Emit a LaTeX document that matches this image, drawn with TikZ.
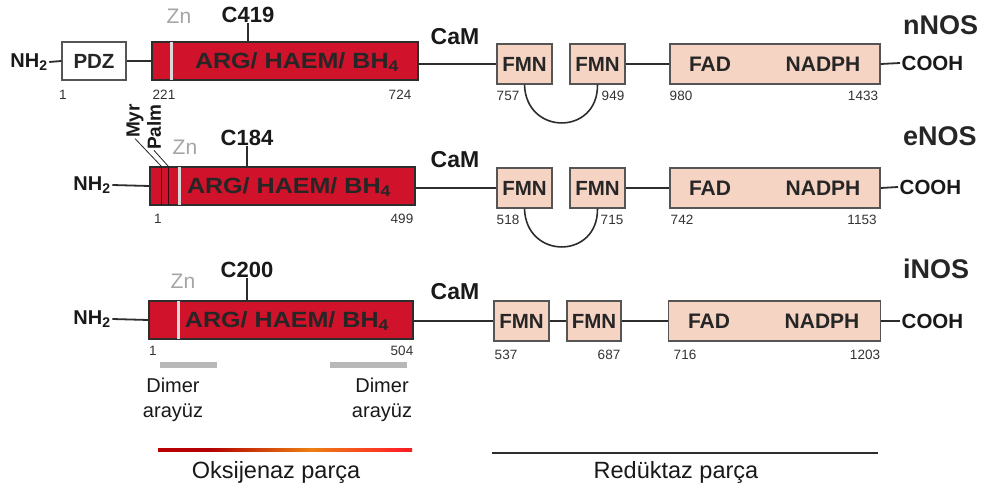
\documentclass[tikz,border=0pt]{standalone}
\usepackage{fontspec}
\setmainfont{Liberation Sans}
\usetikzlibrary{calc}
\definecolor{nosred}{RGB}{208,18,42}
\definecolor{salmon}{RGB}{246,212,196}
\definecolor{lnc}{RGB}{45,45,45}
\definecolor{bord}{RGB}{85,85,85}
\definecolor{zngray}{RGB}{165,165,165}
\definecolor{darkstripe}{RGB}{60,10,16}
\pgfdeclarehorizontalshading{oxgrad}{100bp}{color(0bp)=(black!60); color(15bp)=(red!75!black); color(35bp)=(red!70!black); color(55bp)=(orange!70!brown); color(72bp)=(red!85); color(88bp)=(red!80!black); color(100bp)=(red!50!black)}
\newcommand{\argtext}{\scalebox{1.14}[1]{ARG/ HAEM/ BH\textsubscript{4}}}
\begin{document}
\begin{tikzpicture}[x=1pt,y=-1pt,
  redbox/.style={draw=lnc, fill=nosred, line width=1.2pt, minimum height=38pt, inner sep=0pt},
  rbox/.style={draw=bord, fill=salmon, line width=1.4pt, minimum height=40pt, inner sep=0pt,
    font=\fontsize{20.5}{24}\selectfont\bfseries, text=black!85},
  wbox/.style={draw=bord, fill=white, line width=1.4pt, minimum height=38pt, inner sep=0pt,
    font=\fontsize{20.5}{24}\selectfont\bfseries, text=black!85},
  btxt/.style={font=\fontsize{22}{24}\selectfont\bfseries, text=black!85, inner sep=0pt},
  ftxt/.style={font=\fontsize{21}{24}\selectfont\bfseries, text=black!85, inner sep=0pt},
  num/.style={font=\fontsize{13.5}{16}\selectfont, text=black!80, inner sep=0pt},
  cys/.style={font=\fontsize{22}{24}\selectfont\bfseries, text=black!90, inner sep=0pt},
  znlab/.style={font=\fontsize{21}{24}\selectfont, text=zngray, inner sep=0pt},
  cam/.style={font=\fontsize{23}{24}\selectfont\bfseries, text=black!90, inner sep=0pt},
  nh/.style={font=\fontsize{20}{24}\selectfont\bfseries, text=black!90, inner sep=1.5pt},
  cooh/.style={font=\fontsize{20.5}{24}\selectfont\bfseries, text=black!90, inner sep=1.5pt, anchor=west},
  nos/.style={font=\fontsize{27}{30}\selectfont\bfseries, text=black!85, inner sep=0pt, anchor=west},
  myrtxt/.style={font=\fontsize{19}{20}\selectfont\bfseries, text=black!90, inner sep=0.5pt, rotate=90},
  conn/.style={draw=lnc, line width=1.8pt},
  leader/.style={draw=black!85, line width=0.8pt},
  znline/.style={draw=black!15, line width=3pt, shorten >=0.7pt, shorten <=0.7pt},
  dstripe/.style={draw=darkstripe, line width=1.6pt, shorten >=0.7pt, shorten <=0.7pt},
  grbar/.style={fill=black!28, draw=none, minimum height=6pt, inner sep=0pt},
  dim/.style={font=\fontsize{20}{25}\selectfont, text=black!90, align=center, inner sep=0pt},
  bot/.style={font=\fontsize{23.5}{26}\selectfont, text=black!90, inner sep=0pt}
]
\useasboundingbox (0,0) rectangle (995,495);
\fill[white] (0,0) rectangle (995,495);

% ---------------- Row 1: nNOS ----------------
\node[nos] (nnos) at (903,25) {nNOS};
\node[nh] (nh1) at (29,62) {NH\textsubscript{2}};
\node[wbox, minimum width=64pt] (pdz) at (94,61) {PDZ};
\node[redbox, minimum width=266pt] (red1) at (285,61) {};
\draw[znline] ($(red1.north west)+(20,0)$) -- ($(red1.south west)+(20,0)$);
\node[btxt] (arg1) at (297,62) {\argtext};
\node[znlab] (zn1) at (179,16) {Zn};
\node[cys] (c1) at (248,15) {C419};
\draw[conn, line width=1.4pt] (c1.south) -- (c1.south |- red1.north);
\node[cam] (cam1) at (455,37) {CaM};
\node[rbox, minimum width=55pt] (f1a) at (524.5,64) {FMN};
\node[rbox, minimum width=55pt] (f1b) at (597.5,64) {FMN};
\node[rbox, minimum width=210pt] (fad1) at (775,64) {};
\node[ftxt] (fadt1) at (710,64) {FAD};
\node[ftxt] (nadt1) at (823,64) {NADPH};
\node[cooh] (cooh1) at (900,63) {COOH};
\draw[conn] (nh1.east) -- (pdz.west);
\draw[conn] (pdz.east) -- (red1.west);
\draw[conn] (red1.east |- f1a.west) -- (f1a.west);
\draw[conn] (f1b.east) -- (fad1.west);
\draw[conn] (fad1.east) -- (cooh1.west);
\draw[conn, line width=1.6pt] (f1a.south) .. controls +(1.5,51) and +(0.5,51) .. (f1b.south);
\node[num] (n1a) at (63,95) {1};
\node[num] (n1b) at (164,95) {221};
\node[num] (n1c) at (400,95) {724};
\node[num] (n1d) at (508,96) {757};
\node[num] (n1e) at (613,96) {949};
\node[num] (n1f) at (681,96) {980};
\node[num] (n1g) at (863,96) {1433};

% ---------------- Row 2: eNOS ----------------
\node[nos] (enos) at (903,136) {eNOS};
\node[nh] (nh2) at (92,185) {NH\textsubscript{2}};
\node[redbox, minimum width=265pt] (red2) at (282.5,186) {};
\draw[dstripe] ($(red2.north west)+(12,0)$) coordinate (s1) -- ($(red2.south west)+(12,0)$);
\draw[dstripe] ($(red2.north west)+(19,0)$) coordinate (s2) -- ($(red2.south west)+(19,0)$);
\draw[znline] ($(red2.north west)+(30,0)$) -- ($(red2.south west)+(30,0)$);
\node[btxt] (arg2) at (289,187) {\argtext};
\node[myrtxt] (myr) at (135,121) {Myr};
\node[myrtxt] (palm) at (154,127) {Palm};
\draw[leader] (myr.west) -- (s1);
\draw[leader] (palm.west) -- (s2);
\node[znlab] (zn2) at (185,147) {Zn};
\node[cys] (c2) at (247,138) {C184};
\draw[conn, line width=1.4pt] (c2.south) -- (c2.south |- red2.north);
\node[cam] (cam2) at (455,160) {CaM};
\node[rbox, minimum width=55pt] (f2a) at (524.5,188) {FMN};
\node[rbox, minimum width=55pt] (f2b) at (597.5,188) {FMN};
\node[rbox, minimum width=210pt] (fad2) at (775,188) {};
\node[ftxt] (fadt2) at (710,188) {FAD};
\node[ftxt] (nadt2) at (823,188) {NADPH};
\node[cooh] (cooh2) at (898,187) {COOH};
\draw[conn] (nh2.east) -- (red2.west);
\draw[conn] (red2.east |- f2a.west) -- (f2a.west);
\draw[conn] (f2b.east) -- (fad2.west);
\draw[conn] (fad2.east) -- (cooh2.west);
\draw[conn, line width=1.6pt] (f2a.south) .. controls +(1.5,51) and +(0.5,51) .. (f2b.south);
\node[num] (n2a) at (158,219) {1};
\node[num] (n2b) at (402,219) {499};
\node[num] (n2c) at (508,220) {518};
\node[num] (n2d) at (612,220) {715};
\node[num] (n2e) at (682,220) {742};
\node[num] (n2f) at (862,220) {1153};

% ---------------- Row 3: iNOS ----------------
\node[nos] (inos) at (903,269) {iNOS};
\node[nh] (nh3) at (92,319) {NH\textsubscript{2}};
\node[redbox, minimum width=264pt] (red3) at (281,320) {};
\draw[znline] ($(red3.north west)+(30,0)$) -- ($(red3.south west)+(30,0)$);
\node[btxt] (arg3) at (287,321) {\argtext};
\node[znlab] (zn3) at (183,281) {Zn};
\node[cys] (c3) at (247,270) {C200};
\draw[conn, line width=1.4pt] (c3.south) -- (c3.south |- red3.north);
\node[cam] (cam3) at (455,292) {CaM};
\node[rbox, minimum width=55pt] (f3a) at (521.5,321) {FMN};
\node[rbox, minimum width=54pt] (f3b) at (594,321) {FMN};
\node[rbox, minimum width=212pt] (fad3) at (774.5,321) {};
\node[ftxt] (fadt3) at (709,321) {FAD};
\node[ftxt] (nadt3) at (822,321) {NADPH};
\node[cooh] (cooh3) at (900,321) {COOH};
\draw[conn] (nh3.east) -- (red3.west);
\draw[conn] (red3.east |- f3a.west) -- (f3a.west);
\draw[conn] (f3a.east) -- (f3b.west);
\draw[conn] (f3b.east) -- (fad3.west);
\draw[conn] (fad3.east) -- (cooh3.west);
\node[num] (n3a) at (153,351) {1};
\node[num] (n3b) at (402,351) {504};
\node[num] (n3c) at (506,355) {537};
\node[num] (n3d) at (609,355) {687};
\node[num] (n3e) at (685,355) {716};
\node[num] (n3f) at (865,355) {1203};

% dimer interface bars
\node[grbar, minimum width=57pt] (bar1) at (188.5,365) {};
\node[grbar, minimum width=77pt] (bar2) at (368.5,365) {};
\node[dim] (dim1) at (173,399.5) {Dimer\\arayüz};
\node[dim] (dim2) at (382,399.5) {Dimer\\arayüz};

% bottom segments
\coordinate (ox1) at (158,450);
\coordinate (ox2) at (412,450);
\shade[shading=oxgrad] ($(ox1)+(0,-1.5)$) rectangle ($(ox2)+(0,1.5)$);
\node[bot] (oks) at (276,472) {Oksijenaz parça};
\coordinate (rd1) at (492,453);
\coordinate (rd2) at (878,453);
\draw[draw=lnc, line width=2.4pt] (rd1) -- (rd2);
\node[bot] (redk) at (676,472) {Redüktaz parça};
\end{tikzpicture}
\end{document}
